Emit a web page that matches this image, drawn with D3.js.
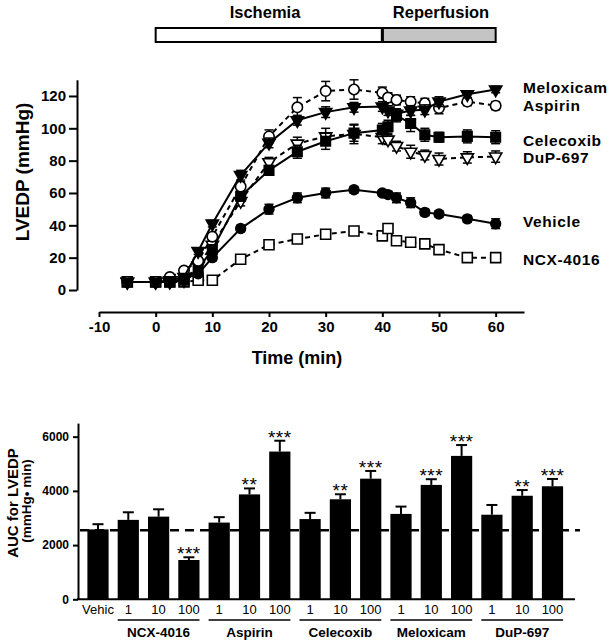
<!DOCTYPE html>
<html><head><meta charset="utf-8">
<script src="https://cdn.jsdelivr.net/npm/d3@7"></script>
<style>body{margin:0;background:#fff}svg{display:block}text{font-family:"Liberation Sans",Arial,sans-serif}</style>
</head><body>
<script>
// ---------- Line chart data ----------
const times = [-5,0,2.5,5,7.5,10,15,20,25,30,35,40,41,42.5,45,47.5,50,55,60];
const vehicle   = [5,5,5,7,10,20,38,50,57,60,62,60,59,57,54,48,47,44,41];
const vehicleE  = [1,1,1,1,1,2,2,3,3,3,2,2,2,3,3,2,2,2,3];
const ncx       = [5,5,5,5,6,6,19,28,31.5,34.5,36.5,33.5,38,30.5,29.5,28.5,25,20,20];
const ncxE      = [1,1,1,1,1,1,2,2,2,2,2,2,2,2,2,2,2,2,2];
const aspirin   = [5,5,8,12,18,33,64,95,113,123,124,122,119,117.5,116.5,115.5,112.5,116.5,114];
const aspirinE  = [1,1,1,1,2,2,3,4,6,6,6,3.5,3,3,3,3,3.5,2.5,2.5];
const meloxicam = [5,5,6,8,24,41,71,91,105,110,113,113.5,111,109,111,111.5,116.5,121,124];
const meloxicamE= [1,1,1,1,2,2,3,3,3,3.3,3,3,3,3,3,3,3,2,2];
const celecoxib = [5,5,5,6,13,25,58,74,85.5,92,97,99,101,108,103,96,94.5,95,94.5];
const celecoxibE= [1,1,1,1,2,2,3,3,4,5,5,4,4,4,5,4,3,4,4];
const dup       = [5,5,5,6,15,28,55,79,90.5,95,96.5,94.5,93,89,85.5,83.5,81,82,82.5];
const dupE      = [1,1,1,1,2,2,3,3,4,5,6,4,3,3,4,3,3.7,3.5,3.5];
const yTicksLine = [0,20,40,60,80,100,120];
const xTicksLine = [-10,0,10,20,30,40,50,60];

// ---------- Bar chart data ----------
const barLabels = ["Vehic","1","10","100","1","10","100","1","10","100","1","10","100","1","10","100"];
const groupNames = ["NCX-4016","Aspirin","Celecoxib","Meloxicam","DuP-697"];
const barMeans = [2580,2930,3050,1450,2830,3870,5450,2960,3690,4450,3150,4220,5290,3120,3820,4170];
const barSEM   = [190,280,270,100,200,220,400,230,185,285,270,210,400,360,210,270];
const barSig   = ["","","","***","","**","***","","**","***","","***","***","","**","***"];
const refLevel = 2550;
const yTicksBar = [0,2000,4000,6000];

const W = 614, H = 640;
const svg = d3.select("body").append("svg").attr("width", W).attr("height", H);
const FONT = '"Liberation Sans",Arial,sans-serif';

// ======== LINE CHART ========
const x = d3.scaleLinear().domain([-10,65]).range([99,524]);
const y = d3.scaleLinear().domain([0,130]).range([290,79.8]);

// top phase bar
svg.append("rect").attr("x", x(0)).attr("y", 28).attr("width", x(40)-x(0)).attr("height", 14)
  .attr("fill","#fff").attr("stroke","#000").attr("stroke-width",2);
svg.append("rect").attr("x", x(40)).attr("y", 28).attr("width", x(60)-x(40)).attr("height", 14)
  .attr("fill","#c4c4c4").attr("stroke","#000").attr("stroke-width",2);
svg.append("line").attr("x1",x(40)).attr("x2",x(40)).attr("y1",28).attr("y2",42).attr("stroke","#000").attr("stroke-width",3);
svg.append("text").attr("x",265).attr("y",18).attr("text-anchor","middle").attr("font-weight","bold").attr("font-size",16.5).text("Ischemia");
svg.append("text").attr("x",441).attr("y",18).attr("text-anchor","middle").attr("font-weight","bold").attr("font-size",16.5).text("Reperfusion");

// axes
const yAx = svg.append("g").attr("transform","translate(77,0)")
  .call(d3.axisLeft(y).tickValues(yTicksLine).tickFormat(d=>String(d)).tickSize(8).tickPadding(3).tickSizeOuter(0));
const xAx = svg.append("g").attr("transform","translate(0,312)")
  .call(d3.axisBottom(x).tickValues(xTicksLine).tickFormat(d=>String(d)).tickSize(5).tickPadding(4).tickSizeOuter(0));
[yAx,xAx].forEach(g=>{
  g.select(".domain").attr("stroke","#000").attr("stroke-width",2);
  g.selectAll(".tick line").attr("stroke","#000").attr("stroke-width",2);
  g.selectAll(".tick text").attr("font-family",FONT).attr("font-weight","bold").attr("font-size",15).attr("fill","#000");
});
svg.append("text").attr("transform","translate(29,172) rotate(-90)").attr("text-anchor","middle")
  .attr("font-weight","bold").attr("font-size",19).text("LVEDP (mmHg)");
svg.append("text").attr("x",297).attr("y",364).attr("text-anchor","middle")
  .attr("font-weight","bold").attr("font-size",18).text("Time (min)");

const series = [
  {name:"NCX-4016", v:ncx, e:ncxE, dash:true, sym:"square", fill:false},
  {name:"Vehicle", v:vehicle, e:vehicleE, dash:false, sym:"circle", fill:true},
  {name:"DuP-697", v:dup, e:dupE, dash:true, sym:"tri", fill:false},
  {name:"Celecoxib", v:celecoxib, e:celecoxibE, dash:false, sym:"square", fill:true},
  {name:"Aspirin", v:aspirin, e:aspirinE, dash:true, sym:"circle", fill:false},
  {name:"Meloxicam", v:meloxicam, e:meloxicamE, dash:false, sym:"tri", fill:true}
];
const line = d3.line().x((d,i)=>x(times[i])).y(d=>y(d));
series.forEach(s=>{
  const g = svg.append("g");
  s.v.forEach((v,i)=>{
    const cx = x(times[i]);
    g.append("line").attr("x1",cx).attr("x2",cx).attr("y1",y(v-s.e[i])).attr("y2",y(v+s.e[i])).attr("stroke","#000").attr("stroke-width",1.5);
    [v-s.e[i], v+s.e[i]].forEach(w=>g.append("line").attr("x1",cx-4.5).attr("x2",cx+4.5).attr("y1",y(w)).attr("y2",y(w)).attr("stroke","#000").attr("stroke-width",1.5));
  });
  g.append("path").attr("d", line(s.v)).attr("fill","none").attr("stroke","#000").attr("stroke-width",2)
    .attr("stroke-dasharray", s.dash ? "5,4" : null);
  let symType, size, rot = 0;
  if (s.sym==="circle"){ symType=d3.symbolCircle; size=s.fill?75:85; }
  else if (s.sym==="square"){ symType=d3.symbolSquare; size=s.fill?90:100; }
  else { symType=d3.symbolTriangle; size=65; rot=180; }
  const p = d3.symbol().type(symType).size(size)();
  s.v.forEach((v,i)=>{
    g.append("path").attr("d",p).attr("transform",`translate(${x(times[i])},${y(v)}) rotate(${rot})`)
      .attr("fill", s.fill ? "#000" : "#fff").attr("stroke","#000").attr("stroke-width",1.6);
  });
});

// legend labels
const legendY = {"Meloxicam":93,"Aspirin":110.5,"Celecoxib":145.5,"DuP-697":163,"Vehicle":227,"NCX-4016":264.5};
Object.entries(legendY).forEach(([n,yy])=>{
  svg.append("text").attr("x",523).attr("y",yy).attr("font-weight","bold").attr("font-size",15.5)
    .attr("letter-spacing",0.6).text(n);
});

// ======== BAR CHART ========
const xb = d3.scaleBand().domain(d3.range(barMeans.length)).range([82.85,567.65]).paddingInner(0.3).paddingOuter(0.15);
const yb = d3.scaleLinear().domain([0,6500]).range([599.3,423.1]);

const bars = svg.append("g");
barMeans.forEach((m,i)=>{
  const bx = xb(i), bw = xb.bandwidth(), cx = bx + bw/2;
  bars.append("line").attr("x1",cx).attr("x2",cx).attr("y1",yb(m)).attr("y2",yb(m+barSEM[i])).attr("stroke","#000").attr("stroke-width",2);
  bars.append("line").attr("x1",cx-5.5).attr("x2",cx+5.5).attr("y1",yb(m+barSEM[i])).attr("y2",yb(m+barSEM[i])).attr("stroke","#000").attr("stroke-width",2);
  bars.append("rect").attr("x",bx).attr("y",yb(m)).attr("width",bw).attr("height",yb(0)-yb(m)).attr("fill","#000");
  if (barSig[i]) bars.append("text").attr("x",cx).attr("y",yb(m+barSEM[i])+3).attr("text-anchor","middle")
    .attr("font-size",19).attr("letter-spacing",0.5).text(barSig[i]);
  bars.append("text").attr("x",cx).attr("y",614).attr("text-anchor","middle").attr("font-size",13).text(barLabels[i]);
});
svg.append("line").attr("x1",80).attr("x2",580).attr("y1",yb(refLevel)).attr("y2",yb(refLevel))
  .attr("stroke","#000").attr("stroke-width",2.5).attr("stroke-dasharray","9,6");

const yBAx = svg.append("g").attr("transform","translate(78,0)")
  .call(d3.axisLeft(yb).tickValues(yTicksBar).tickFormat(d=>String(d)).tickSize(5).tickPadding(4).tickSizeOuter(0));
yBAx.select(".domain").attr("stroke","#000").attr("stroke-width",2);
yBAx.selectAll(".tick line").attr("stroke","#000").attr("stroke-width",2);
yBAx.selectAll(".tick text").attr("font-family",FONT).attr("font-weight","bold").attr("font-size",12).attr("fill","#000");
svg.append("line").attr("x1",77).attr("x2",575).attr("y1",yb(0)).attr("y2",yb(0)).attr("stroke","#000").attr("stroke-width",2);

groupNames.forEach((n,gi)=>{
  const i0 = 1 + gi*3, i1 = i0 + 2;
  const x0 = xb(i0), x1 = xb(i1) + xb.bandwidth();
  svg.append("line").attr("x1",x0).attr("x2",x1).attr("y1",620).attr("y2",620).attr("stroke","#000").attr("stroke-width",1.5);
  svg.append("text").attr("x",(x0+x1)/2).attr("y",637).attr("text-anchor","middle").attr("font-weight","bold").attr("font-size",13.5).text(n);
});

svg.append("text").attr("transform","translate(18,503) rotate(-90)").attr("text-anchor","middle")
  .attr("font-weight","bold").attr("font-size",15).text("AUC for LVEDP");
svg.append("text").attr("transform","translate(31,501) rotate(-90)").attr("text-anchor","middle")
  .attr("font-weight","bold").attr("font-size",13.5).text("(mmHg\u2022 min)");
</script>
</body></html>
